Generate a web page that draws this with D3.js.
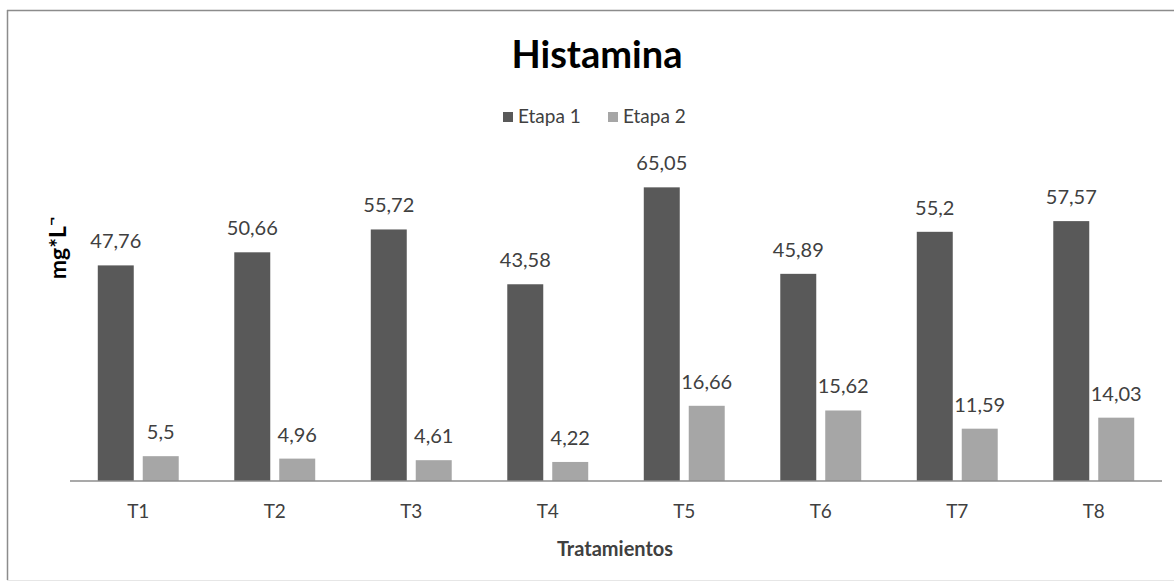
<!DOCTYPE html>
<html>
<head>
<meta charset="utf-8">
<script src="https://cdn.jsdelivr.net/npm/d3@7/dist/d3.min.js"></script>
<style>
  html, body { margin: 0; padding: 0; background: #ffffff; }
  svg { display: block; font-family: Lato, "Open Sans", sans-serif; }
</style>
</head>
<body>
<svg id="chart" width="1174" height="583"></svg>
<script>
// Histamine by treatment, two stages
const categories = ["T1", "T2", "T3", "T4", "T5", "T6", "T7", "T8"];
const seriesNames = ["Etapa 1", "Etapa 2"];
const etapa1 = [47.76, 50.66, 55.72, 43.58, 65.05, 45.89, 55.2, 57.57];
const etapa2 = [5.5, 4.96, 4.61, 4.22, 16.66, 15.62, 11.59, 14.03];
const seriesColors = ["#595959", "#a6a6a6"];

const svg = d3.select("#chart");
const W = 1174, H = 583;

// chart frame
svg.append("rect").attr("x", 0).attr("y", 0).attr("width", W).attr("height", H).attr("fill", "#fff");
svg.append("line").attr("x1", 7.5).attr("x2", 7.5).attr("y1", 10).attr("y2", 580)
  .attr("stroke", "#8c8c8c").attr("stroke-width", 1.5);
svg.append("line").attr("x1", 7).attr("x2", W).attr("y1", 10.5).attr("y2", 10.5)
  .attr("stroke", "#8c8c8c").attr("stroke-width", 1.5);
svg.append("line").attr("x1", 7).attr("x2", W).attr("y1", 580.5).attr("y2", 580.5)
  .attr("stroke", "#e6e6e6").attr("stroke-width", 1);

const plot = { left: 70, right: 1162, top: 165, bottom: 481 };

const x0 = d3.scaleBand().domain(categories)
  .range([plot.left, plot.right])
  .paddingInner(0.407).paddingOuter(0.2035);
const x1 = d3.scaleBand().domain(seriesNames)
  .range([0, x0.bandwidth()])
  .paddingInner(0.2).paddingOuter(0);
const y = d3.scaleLinear().domain([0, 70]).range([plot.bottom, plot.top]);

const rows = categories.map((c, i) => ({ cat: c, vals: [etapa1[i], etapa2[i]] }));

const groups = svg.append("g").selectAll("g").data(rows).join("g")
  .attr("transform", d => `translate(${x0(d.cat)},0)`);

groups.selectAll("rect").data(d => d.vals.map((v, k) => ({ v, k })))
  .join("rect")
  .attr("x", d => x1(seriesNames[d.k]))
  .attr("width", x1.bandwidth())
  .attr("y", d => y(d.v))
  .attr("height", d => y(0) - y(d.v))
  .attr("fill", d => seriesColors[d.k]);

const fmt = v => String(v).replace(".", ",");
groups.selectAll("text.val").data(d => d.vals.map((v, k) => ({ v, k })))
  .join("text")
  .attr("class", "val")
  .attr("x", d => x1(seriesNames[d.k]) + x1.bandwidth() / 2)
  .attr("y", d => y(d.v) - 17)
  .attr("text-anchor", "middle")
  .attr("font-size", 20)
  .attr("fill", "#404040")
  .text(d => fmt(d.v));

// category axis
const xAxis = d3.axisBottom(x0).tickSize(0).tickPadding(0);
const gx = svg.append("g").attr("transform", `translate(0,${plot.bottom})`).call(xAxis);
gx.select(".domain").attr("stroke", "#8c8c8c").attr("stroke-width", 1.5)
  .attr("d", `M${plot.left},0H${plot.right}`);
gx.selectAll(".tick text").attr("font-size", 19).attr("fill", "#404040")
  .attr("font-family", "Lato, sans-serif").attr("dy", 0).attr("y", 37);

// titles
svg.append("text").attr("x", 597).attr("y", 68).attr("text-anchor", "middle")
  .attr("font-size", 38).attr("font-weight", "bold").attr("fill", "#000")
  .text("Histamina");

svg.append("text").attr("x", 615).attr("y", 556).attr("text-anchor", "middle")
  .attr("font-size", 20).attr("font-weight", "bold").attr("fill", "#404040")
  .text("Tratamientos");

const yTitle = svg.append("text")
  .attr("transform", "translate(66,248) rotate(-90)")
  .attr("text-anchor", "middle")
  .attr("font-size", 23).attr("font-weight", "bold").attr("fill", "#000");
yTitle.append("tspan").text("mg*L");
yTitle.append("tspan").attr("baseline-shift", "super").attr("font-size", 16).text("¬");

// legend
const legend = svg.append("g").attr("transform", "translate(503,112)");
const li = legend.selectAll("g").data(seriesNames).join("g")
  .attr("transform", (d, i) => `translate(${i * 105},0)`);
li.append("rect").attr("width", 10).attr("height", 10)
  .attr("fill", (d, i) => seriesColors[i]);
li.append("text").attr("x", 15).attr("y", 11).attr("font-size", 19)
  .attr("fill", "#404040").text(d => d);
</script>
</body>
</html>
